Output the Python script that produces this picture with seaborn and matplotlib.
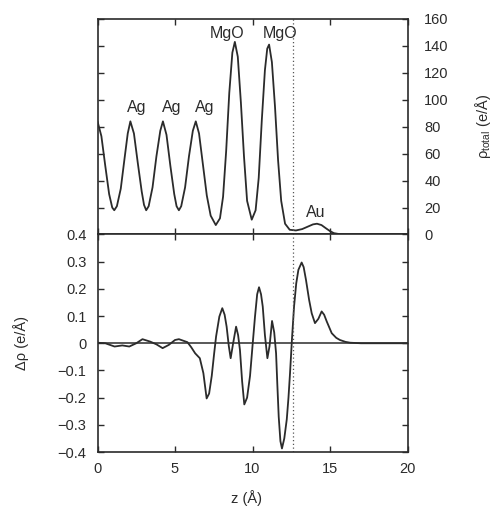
import matplotlib
matplotlib.use("Agg")
import matplotlib.pyplot as plt
import seaborn as sns
import pandas as pd
import numpy as np

# ---- data ----
z_total = [0, 0.25, 0.5, 0.75, 0.95, 1.08, 1.25, 1.5, 1.75, 1.95, 2.12, 2.35, 2.6, 2.85, 3.0,
           3.14, 3.3, 3.55, 3.8, 4.05, 4.22, 4.45, 4.7, 4.95, 5.1, 5.25, 5.4, 5.65, 5.9, 6.15,
           6.34, 6.55, 6.8, 7.05, 7.3, 7.63, 7.9, 8.1, 8.3, 8.5, 8.7, 8.86, 9.05, 9.25, 9.45,
           9.65, 9.95, 10.2, 10.4, 10.6, 10.8, 10.95, 11.07, 11.25, 11.45, 11.65, 11.85, 12.1,
           12.4, 12.8, 13.2, 13.6, 13.9, 14.16, 14.45, 14.75, 15.0, 15.25, 15.6, 16.0, 17.0, 20.0]
rho_total = [84, 73, 51, 30, 20, 18, 21, 34, 57, 75, 84, 75, 53, 32, 22,
             18, 21, 35, 58, 77, 84, 74, 51, 30, 21, 18, 21, 35, 58, 77,
             84, 75, 52, 29, 14, 7, 12, 28, 62, 105, 135, 143, 132, 98, 58,
             25, 11, 18, 42, 85, 122, 138, 141, 128, 95, 55, 25, 8,
             3.5, 3, 4, 6, 7.5, 8, 7, 4.5, 2.5, 1, 0.3, 0, 0, 0]

z_delta = [0, 0.5, 1.1, 1.6, 2.05, 2.5, 2.9, 3.4, 3.8, 4.2, 4.6, 5.0, 5.25, 5.5, 5.8, 6.05,
           6.3, 6.6, 6.83, 7.04, 7.2, 7.37, 7.52, 7.65, 7.86, 8.05, 8.2, 8.33, 8.47, 8.59,
           8.75, 8.94, 9.07, 9.19, 9.33, 9.47, 9.65, 9.84, 10.0, 10.16, 10.3, 10.42, 10.55,
           10.66, 10.8, 10.96, 11.1, 11.26, 11.4, 11.52, 11.6, 11.69, 11.8, 11.9, 12.05,
           12.21, 12.32, 12.42, 12.55, 12.68, 12.82, 12.96, 13.17, 13.3, 13.45, 13.65, 13.82,
           14.03, 14.25, 14.46, 14.62, 14.79, 15.11, 15.4, 15.64, 16.0, 16.3, 17.0, 20.0]
delta_rho = [0.002, 0.0, -0.012, -0.008, -0.012, 0.0, 0.015, 0.006, -0.004, -0.018, -0.006,
             0.012, 0.015, 0.01, 0.004, -0.015, -0.037, -0.055, -0.11, -0.203, -0.185, -0.12,
             -0.04, 0.025, 0.098, 0.129, 0.105, 0.061, -0.01, -0.055, 0.0, 0.061, 0.03, -0.025,
             -0.14, -0.225, -0.2, -0.12, -0.01, 0.098, 0.18, 0.206, 0.18, 0.135, 0.03, -0.055,
             -0.01, 0.082, 0.04, -0.037, -0.15, -0.27, -0.36, -0.387, -0.35, -0.28, -0.2,
             -0.11, 0.02, 0.135, 0.22, 0.27, 0.297, 0.28, 0.233, 0.16, 0.11, 0.074, 0.09,
             0.117, 0.105, 0.08, 0.037, 0.02, 0.012, 0.005, 0.002, 0.0, 0.0]

peak_labels = ["Ag", "Ag", "Ag", "MgO", "MgO", "Au"]
label_z = [2.55, 4.78, 6.9, 8.35, 11.8, 14.1]
label_rho = [94, 94, 94, 149, 149, 16.5]

interface_z = 12.6
x_ticks = [0, 5, 10, 15, 20]
top_ticks = [0, 20, 40, 60, 80, 100, 120, 140, 160]
bot_ticks = [-0.4, -0.3, -0.2, -0.1, 0, 0.1, 0.2, 0.3, 0.4]
bot_tick_labels = ["\u22120.4", "\u22120.3", "\u22120.2", "\u22120.1", "0", "0.1", "0.2", "0.3", "0.4"]

df_top = pd.DataFrame({"z": z_total, "rho": rho_total})
df_bot = pd.DataFrame({"z": z_delta, "drho": delta_rho})

sns.set_style("ticks")
plt.rcParams["font.family"] = ["Liberation Sans", "DejaVu Sans"]
plt.rcParams["mathtext.fontset"] = "custom"
plt.rcParams["mathtext.rm"] = "Liberation Sans"
plt.rcParams["mathtext.it"] = "Liberation Sans:italic"

ink = "#2b2b2b"
fig = plt.figure(figsize=(4.96, 5.08), dpi=100)
L, R = 0.1966, 0.8216
ax1 = fig.add_axes([L, 0.5384, R - L, 0.9626 - 0.5384])
ax2 = fig.add_axes([L, 0.1102, R - L, 0.5384 - 0.1102], sharex=ax1)

sns.lineplot(data=df_top, x="z", y="rho", ax=ax1, color=ink, lw=1.3, sort=False)
sns.lineplot(data=df_bot, x="z", y="drho", ax=ax2, color=ink, lw=1.3, sort=False)

for ax in (ax1, ax2):
    for sp in ax.spines.values():
        sp.set_visible(True)
        sp.set_linewidth(1.2)
        sp.set_color(ink)
    ax.axvline(interface_z, ls=(0, (1, 2)), color="#555555", lw=0.9)
    ax.set_xlim(0, 20)
    ax.set_xticks(x_ticks)
    ax.tick_params(direction="in", length=4, width=1, colors=ink, labelsize=10.5,
                   top=True, bottom=True, left=True, right=True)

ax2.axhline(0, color=ink, lw=1.1)

# top panel
ax1.set_ylim(0, 160)
ax1.set_yticks(top_ticks)
ax1.tick_params(labelleft=False, labelright=True, labelbottom=False)
ax1.tick_params(axis="y", pad=12)
ax1.set_xlabel("")
ax1.yaxis.set_label_position("right")
ax1.set_ylabel("\u03c1$_{\\mathrm{total}}$ (e/\u00c5)", fontsize=10.5, color=ink)
ax1.yaxis.set_label_coords(1.212, 0.5)
for t, xz, yz in zip(peak_labels, label_z, label_rho):
    ax1.text(xz, yz, t, ha="center", va="center", fontsize=11.5, color=ink)

# bottom panel
ax2.set_ylim(-0.4, 0.4)
ax2.set_yticks(bot_ticks)
ax2.set_yticklabels(bot_tick_labels)
ax2.tick_params(axis="y", pad=8)
ax2.tick_params(axis="x", pad=7)
ax2.set_xticklabels([str(v) for v in x_ticks])
ax2.set_xlabel("z (\u00c5)", fontsize=10.5, color=ink)
ax2.xaxis.set_label_coords(0.482, -0.175)
ax2.set_ylabel("\u0394\u03c1 (e/\u00c5)", fontsize=10.5, color=ink)
ax2.yaxis.set_label_coords(-0.222, 0.5)

fig.savefig("out.png", dpi=100)
